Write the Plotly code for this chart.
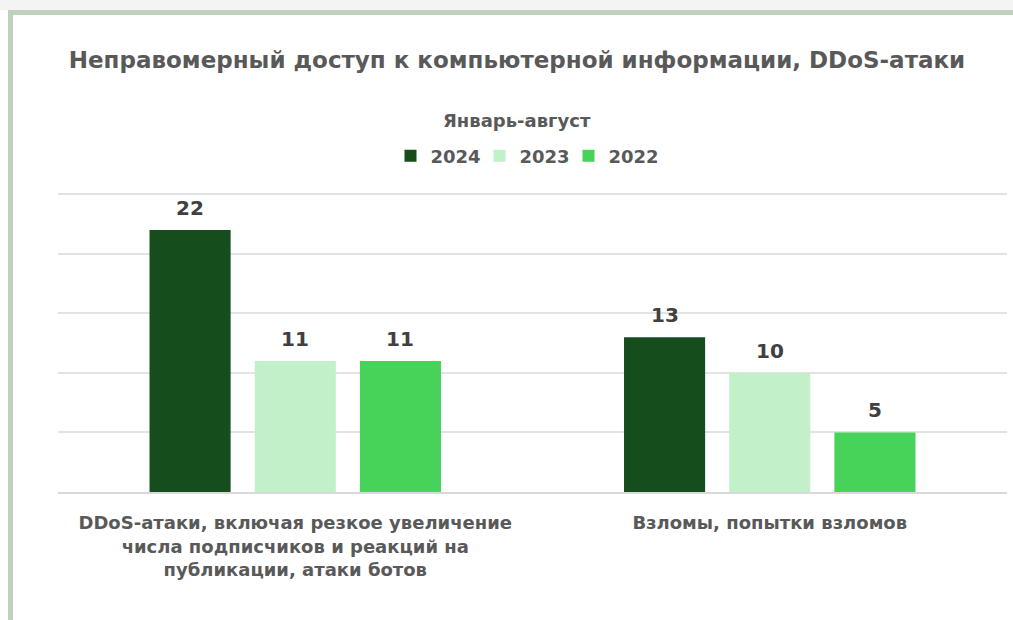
import plotly.graph_objects as go

categories = [
    "DDoS-атаки, включая резкое увеличение<br>числа подписчиков и реакций на<br>публикации, атаки ботов",
    "Взломы, попытки взломов",
]
series_names = ["2024", "2023", "2022"]
values_2024 = [22, 13]
values_2023 = [11, 10]
values_2022 = [11, 5]
colors = ["#154d1c", "#c2f0c8", "#47d35a"]
legend_title = "Январь-август"
chart_title = "Неправомерный доступ к компьютерной информации, DDoS-атаки"

FONT = "DejaVu Sans"
TXT = "#595959"

W, H = 1013, 620
L, R, T, B = 58, 6, 192, 128
pw, ph = W - L - R, H - T - B
YMAX = 25 * ph / 297.7
BARGAP = 0.335
BARGROUPGAP = 0.229
slot = (1 - BARGAP) * pw / len(categories) / len(series_names)


def px_x(p):
    return (p - L) / pw


def px_y(p):
    return (H - B - p) / ph


fig = go.Figure()
annotations = []
all_vals = [values_2024, values_2023, values_2022]
for i, (name, vals, col) in enumerate(zip(series_names, all_vals, colors)):
    fig.add_trace(go.Bar(
        x=categories, y=vals, name=name,
        marker=dict(color=col, line=dict(width=0)),
    ))
    for c, v in zip(categories, vals):
        annotations.append(dict(
            x=c, y=v, xref="x", yref="y", text=f"<b>{v}</b>", showarrow=False,
            xanchor="center", yanchor="middle",
            xshift=(i - (len(series_names) - 1) / 2) * slot, yshift=22,
            font=dict(family=FONT, size=20, color="#404040"),
        ))

annotations.append(dict(
    x=px_x(517), y=px_y(120), xref="paper", yref="paper", text=f"<b>{legend_title}</b>",
    showarrow=False, xanchor="center", yanchor="middle",
    font=dict(family=FONT, size=18, color=TXT),
))

shapes = [
    dict(type="rect", xref="paper", yref="paper", x0=px_x(0), x1=px_x(W + 5), y0=px_y(10), y1=px_y(-5),
         fillcolor="#f4f4f4", line=dict(width=0), layer="below"),
    dict(type="line", xref="paper", yref="paper", x0=px_x(8), x1=px_x(W + 5), y0=px_y(12.5), y1=px_y(12.5),
         line=dict(color="#bfd0bb", width=5)),
    dict(type="line", xref="paper", yref="paper", x0=px_x(10.5), x1=px_x(10.5), y0=px_y(10), y1=px_y(H + 5),
         line=dict(color="#bfd0bb", width=5)),
]

fig.update_layout(
    width=W, height=H,
    margin=dict(l=L, r=R, t=T, b=B, autoexpand=False),
    paper_bgcolor="white", plot_bgcolor="white",
    barmode="group", bargap=BARGAP, bargroupgap=BARGROUPGAP,
    title=dict(text=f"<b>{chart_title}</b>",
               x=517 / W, xanchor="center", xref="container",
               y=1 - 60 / H, yanchor="middle", yref="container",
               font=dict(family=FONT, size=23, color=TXT)),
    legend=dict(orientation="h", x=524 / W, xanchor="center", xref="container",
                y=1 - 156 / H, yanchor="middle", yref="container",
                font=dict(family=FONT, size=18, color=TXT, weight="bold"),
                itemwidth=30, entrywidth=44, traceorder="normal", bgcolor="rgba(0,0,0,0)"),
    xaxis=dict(showgrid=False, showline=True, linecolor="#d9d9d9", linewidth=1.5,
               ticks="", ticklabelstandoff=14,
               tickfont=dict(family=FONT, size=18, color=TXT, weight="bold")),
    yaxis=dict(range=[0, YMAX], dtick=5, showgrid=True, gridcolor="#e3e3e3", gridwidth=1.5,
               showticklabels=False, zeroline=False, ticks=""),
    shapes=shapes,
    annotations=annotations,
    showlegend=True,
)

fig.write_html("out.html")
